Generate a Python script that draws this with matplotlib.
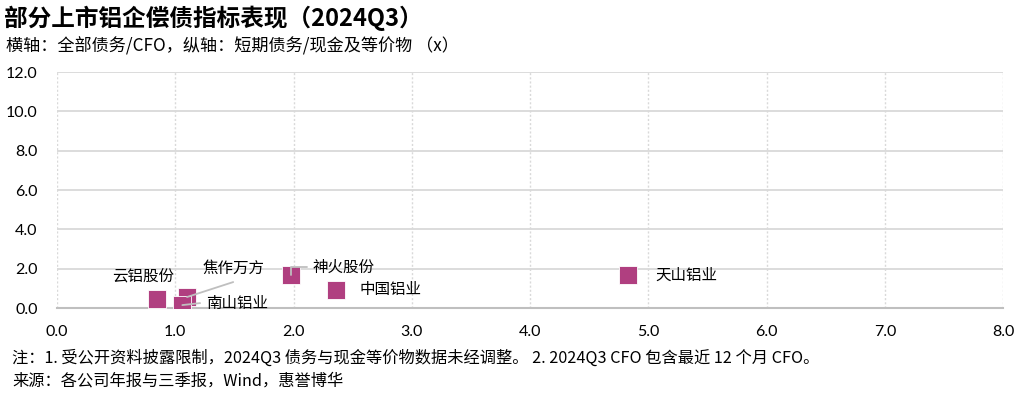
import matplotlib
matplotlib.use("Agg")
import matplotlib.pyplot as plt

plt.rcParams['font.family'] = ['Noto Sans CJK SC', 'DejaVu Sans']

# data
companies = ['云铝股份', '焦作万方', '南山铝业', '神火股份', '中国铝业', '天山铝业']
debt_cfo = [0.85, 1.10, 1.06, 1.98, 2.36, 4.83]
short_debt_cash = [0.45, 0.56, 0.15, 1.70, 0.92, 1.68]
xticks = [0, 1, 2, 3, 4, 5, 6, 7, 8]
yticks = [0, 2, 4, 6, 8, 10, 12]

# label positions (data coords)
label_pos = [(0.47, 1.65), (1.23, 2.0), (1.26, 0.25), (2.165, 2.05), (2.56, 0.92), (5.06, 1.68)]
# leader line start points (None = no leader)
leader_from = [None, (1.49, 1.32), (1.21, 0.25), (2.11, 2.07), None, None]
leader_style = [None, 'arc3', 'arc3', 'angle,angleA=0,angleB=90,rad=0', None, None]

color = '#B03F80'
grid_c = '#D9D9D9'

fig = plt.figure(figsize=(10.32, 3.99), dpi=100)
ax = fig.add_axes([0.0552, 0.228, 0.9168, 0.5915])

ax.scatter(debt_cfo, short_debt_cash, marker='s', s=170, color=color,
           edgecolors='white', linewidths=0.6, zorder=3)

for name, x, y, (lx, ly), lf, ls in zip(companies, debt_cfo, short_debt_cash,
                                          label_pos, leader_from, leader_style):
    ax.text(lx, ly, name, fontsize=11.2, ha='left', va='center', zorder=4)
    if lf is not None:
        ax.annotate('', xy=(x, y), xytext=lf, zorder=4,
                    arrowprops=dict(arrowstyle='-', color='#BFBFBF', lw=1.3,
                                    shrinkA=0, shrinkB=0, connectionstyle=ls))

ax.set_xlim(0, 8)
ax.set_ylim(0, 12)
ax.set_xticks(xticks)
ax.set_yticks(yticks)
ax.set_xticklabels([f'{v:.1f}' for v in xticks], family=['Lato', 'DejaVu Sans'], fontsize=11.5)
ax.set_yticklabels([f'{v:.1f}' for v in yticks], family=['Lato', 'DejaVu Sans'], fontsize=11.5)
ax.tick_params(axis='x', length=0, pad=12)
ax.tick_params(axis='y', length=0, pad=14)

for y in yticks[1:]:
    ax.axhline(y, color=grid_c, lw=1.3, zorder=1)
for x in xticks:
    ax.axvline(x, color=grid_c, lw=1.0, ls=(0, (1.5, 1.5)), zorder=1)
for s in ['top', 'right', 'left']:
    ax.spines[s].set_visible(False)
ax.spines['bottom'].set_color('#BFBFBF')
ax.spines['bottom'].set_linewidth(1.5)

fig.text(0.004, 0.953, '部分上市铝企偿债指标表现（2024Q3）', fontsize=17,
         fontweight='bold', va='center')
fig.text(0.006, 0.885, '横轴：全部债务/CFO，纵轴：短期债务/现金及等价物 （x）',
         fontsize=12.3, va='center')
fig.text(0.012, 0.103, '注：1. 受公开资料披露限制，2024Q3 债务与现金等价物数据未经调整。 2. 2024Q3 CFO 包含最近 12 个月 CFO。',
         fontsize=11.7, va='center')
fig.text(0.012, 0.045, '来源：各公司年报与三季报，Wind，惠誉博华', fontsize=11.7, va='center')

fig.savefig('out.png', dpi=100)
